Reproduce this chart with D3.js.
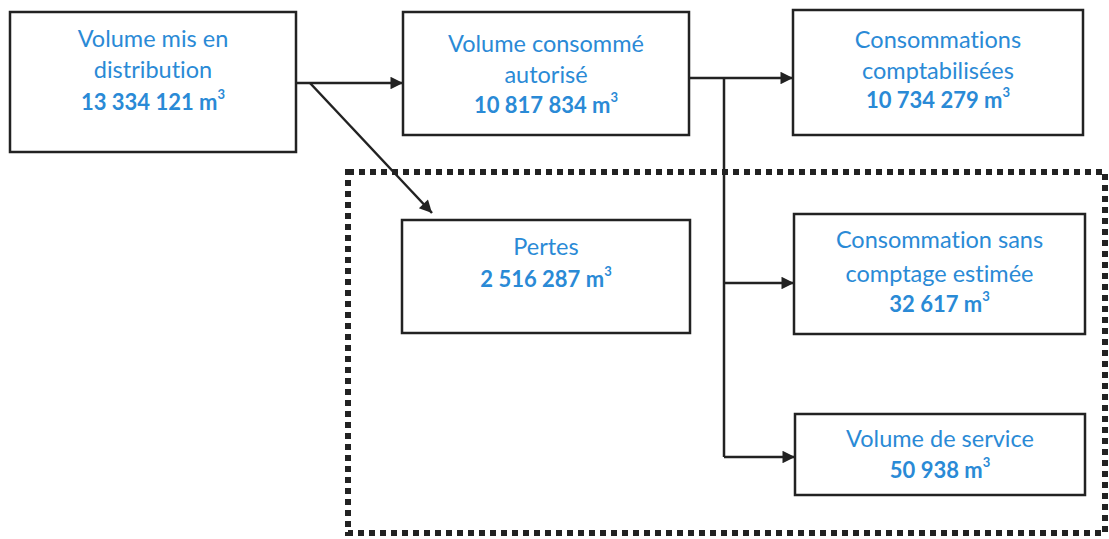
<!DOCTYPE html>
<html>
<head>
<meta charset="utf-8">
<script src="https://cdn.jsdelivr.net/npm/d3@7"></script>
<style>
  html, body { margin: 0; padding: 0; background: #fff; }
  svg { display: block; }
  text { font-variant-ligatures: none; font-feature-settings: "liga" 0; }
</style>
</head>
<body>
<svg id="chart" width="1109" height="539"></svg>
<script>
// ---- Data ----
const ids = ["mis", "autorise", "compta", "pertes", "sansComptage", "service"];
const labels = [
  ["Volume mis en", "distribution"],
  ["Volume consommé", "autorisé"],
  ["Consommations", "comptabilisées"],
  ["Pertes"],
  ["Consommation sans", "comptage estimée"],
  ["Volume de service"]
];
const volumes = [13334121, 10817834, 10734279, 2516287, 32617, 50938];
const unit = "m";
const links = [["mis", "autorise"], ["mis", "pertes"], ["autorise", "compta"], ["autorise", "sansComptage"], ["autorise", "service"]];

// ---- Layout (separate from data) ----
const layout = {
  mis:          { x0: 10,  x1: 296,  y0: 12,  y1: 152, base: [47, 78, 110] },
  autorise:     { x0: 403, x1: 689,  y0: 12,  y1: 135, base: [52, 83, 113] },
  compta:       { x0: 793, x1: 1083, y0: 10,  y1: 135, base: [48, 79, 108] },
  pertes:       { x0: 402, x1: 690,  y0: 220, y1: 333, base: [255, 287] },
  sansComptage: { x0: 794, x1: 1085, y0: 214, y1: 334, base: [248, 282, 312] },
  service:      { x0: 795, x1: 1085, y0: 414, y1: 495, base: [447, 478] }
};

const fmt = d3.formatLocale({ decimal: ",", thousands: " ", grouping: [3], currency: ["", ""] }).format(",d");

const ink = "#222";
const blue = "#2a8ad6";
const svg = d3.select("#chart");

const defs = svg.append("defs");
defs.append("marker")
  .attr("id", "arrow")
  .attr("viewBox", "0 0 10 10")
  .attr("refX", 10).attr("refY", 5)
  .attr("markerWidth", 6).attr("markerHeight", 5)
  .attr("markerUnits", "strokeWidth")
  .attr("orient", "auto")
  .append("path")
  .attr("d", "M0,0 L10,5 L0,10 Z")
  .attr("fill", ink);

// Dotted frame around losses / non-metered
svg.append("rect")
  .attr("x", 348).attr("y", 172)
  .attr("width", 1105 - 348).attr("height", 533 - 172)
  .attr("fill", "none")
  .attr("stroke", ink)
  .attr("stroke-width", 6)
  .attr("stroke-dasharray", "6 5");

// Connectors
const L = id => layout[id];
const lineGen = d3.line();
const connectors = [];
const yMain = 83;
connectors.push({ pts: [[L("mis").x1, yMain], [L("autorise").x0, yMain]], arrow: true });
connectors.push({ pts: [[310, yMain], [432, 213]], arrow: true });
const yTop = 78, xTrunk = 724;
connectors.push({ pts: [[L("autorise").x1, yTop], [L("compta").x0, yTop]], arrow: true });
connectors.push({ pts: [[xTrunk, yTop], [xTrunk, 457]], arrow: false });
connectors.push({ pts: [[xTrunk, 283], [L("sansComptage").x0, 283]], arrow: true });
connectors.push({ pts: [[xTrunk, 457], [L("service").x0, 457]], arrow: true });

svg.append("g").selectAll("path")
  .data(connectors)
  .join("path")
  .attr("d", d => lineGen(d.pts))
  .attr("fill", "none")
  .attr("stroke", ink)
  .attr("stroke-width", 2.5)
  .attr("marker-end", d => d.arrow ? "url(#arrow)" : null);

// Boxes
const nodes = ids.map((id, i) => ({ id, lines: labels[i], value: volumes[i], ...layout[id] }));

const g = svg.append("g").selectAll("g")
  .data(nodes)
  .join("g");

g.append("rect")
  .attr("x", d => d.x0).attr("y", d => d.y0)
  .attr("width", d => d.x1 - d.x0).attr("height", d => d.y1 - d.y0)
  .attr("fill", "#fff")
  .attr("stroke", ink)
  .attr("stroke-width", 2.5);

g.each(function(d) {
  const sel = d3.select(this);
  const cx = (d.x0 + d.x1) / 2;
  d.lines.forEach((t, i) => {
    sel.append("text")
      .attr("x", cx).attr("y", d.base[i])
      .attr("text-anchor", "middle")
      .attr("font-family", "Lato, 'Open Sans', sans-serif")
      .attr("font-size", 23.5)
      .attr("fill", blue)
      .text(t);
  });
  const vt = sel.append("text")
    .attr("x", cx).attr("y", d.base[d.lines.length])
    .attr("text-anchor", "middle")
    .attr("font-family", "Lato, 'Open Sans', sans-serif")
    .attr("font-size", 22)
    .attr("font-weight", "bold")
    .attr("fill", blue);
  vt.append("tspan").text(fmt(d.value) + " " + unit);
  vt.append("tspan").attr("dy", -11).attr("font-size", 13).text("3");
});
</script>
</body>
</html>
